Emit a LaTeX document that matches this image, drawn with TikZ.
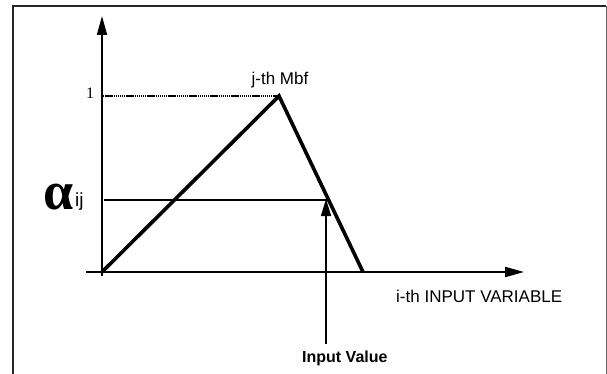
\documentclass[tikz,border=0pt]{standalone}
\usepackage{fontspec}
\setmainfont{Liberation Sans}
\newfontfamily\serifface{Liberation Serif}
\usetikzlibrary{arrows.meta}
\begin{document}
\begin{tikzpicture}[x=1pt,y=-1pt,
  frameline/.style={line width=2pt,draw=black!85},
  axisline/.style={line width=2pt,-{Triangle[length=19pt,width=10pt]}},
  mbfline/.style={line width=3.6pt,line join=miter},
  levelline/.style={line width=1.1pt},
  dotline/.style={line width=1.8pt,dash pattern=on 1.4pt off 0.7pt},
  inarrow/.style={line width=1.6pt,-{Triangle[length=17pt,width=10pt]}},
  lbl/.style={font=\fontsize{17}{20}\selectfont,inner sep=0pt}]
\useasboundingbox (0,0) rectangle (607,374);
% frame
\coordinate (fb) at (13,374);
\coordinate (ftl) at (13,6.5);
\coordinate (ftr) at (606,6.5);
\coordinate (fbr) at (606,374);
\draw[frameline] (fb) -- (ftl) -- (ftr);
\draw[line width=1pt,draw=black!60] (ftr) -- (fbr);
% axes
\coordinate (ybot) at (102,276);
\coordinate (ytop) at (102,16);
\coordinate (xl) at (86,272);
\coordinate (xr) at (524,272);
\draw[axisline] (ybot) -- (ytop);
\draw[axisline] (xl) -- (xr);
% membership function
\coordinate (O) at (102,272);
\coordinate (P) at (279,96);
\coordinate (Q) at (363,272);
\coordinate (Pl) at (103,96);
\draw[dotline] (Pl) -- (P);
\draw[mbfline] (O) -- (P) -- (Q);
% level
\coordinate (al) at (104,200);
\coordinate (ar) at (328,200);
\draw[levelline] (al) -- (ar);
% input arrow
\coordinate (ib) at (326,344);
\coordinate (it) at (326,199);
\draw[inarrow] (ib) -- (it);
% labels
\node[inner sep=0pt,font=\serifface\fontsize{16}{18}\selectfont] (one) at (90,93) {1};
\node[lbl,anchor=base] (mbf) at (280,85) {j-th Mbf};
\node[inner sep=0pt,anchor=base,font=\serifface\bfseries\fontsize{54}{58}\selectfont] (alpha) at (59,209) {α};
\node[inner sep=0pt,anchor=base west,font=\fontsize{19}{22}\selectfont] (ij) at (75,206) {ij};
\node[lbl,anchor=base west] (ivar) at (396,302) {i-th INPUT VARIABLE};
\node[lbl,anchor=base west,font=\bfseries\fontsize{16}{20}\selectfont] (ival) at (302,362) {Input Value};
\end{tikzpicture}
\end{document}
